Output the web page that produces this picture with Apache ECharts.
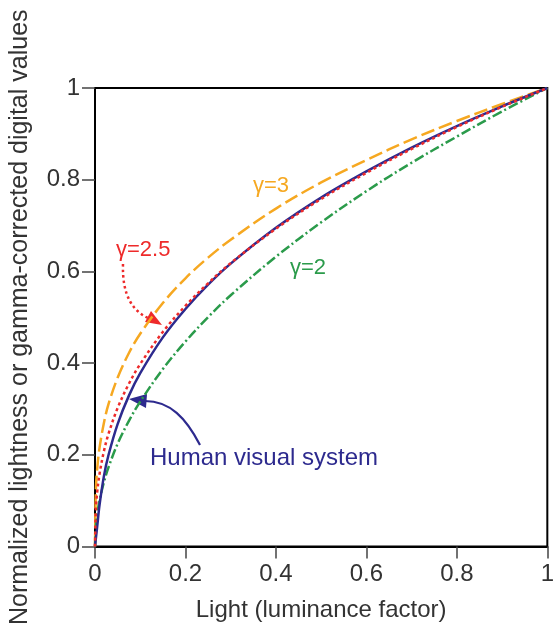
<!DOCTYPE html>
<html>
<head>
<meta charset="utf-8">
<script src="https://cdn.jsdelivr.net/npm/echarts@6/dist/echarts.min.js"></script>
<style>
html, body { margin: 0; padding: 0; background: #fff; }
#chart { width: 557px; height: 628px; }
</style>
</head>
<body>
<div id="chart"></div>
<script>
// light (luminance factor) sample points
var lightX = [0, 0.002, 0.005, 0.01, 0.02, 0.03, 0.05, 0.075, 0.1, 0.15, 0.2, 0.25, 0.3, 0.4, 0.5, 0.6, 0.7, 0.8, 0.9, 1];
// values
var gamma3 = [0, 0.126, 0.171, 0.215, 0.271, 0.311, 0.368, 0.422, 0.464, 0.531, 0.585, 0.630, 0.669, 0.737, 0.794, 0.843, 0.888, 0.928, 0.965, 1];
var gamma25 = [0, 0.083, 0.120, 0.158, 0.209, 0.246, 0.302, 0.355, 0.398, 0.468, 0.525, 0.574, 0.618, 0.693, 0.758, 0.815, 0.867, 0.915, 0.959, 1];
var humanVis = [0, 0.018, 0.045, 0.090, 0.155, 0.200, 0.267, 0.329, 0.378, 0.456, 0.518, 0.571, 0.617, 0.695, 0.761, 0.818, 0.870, 0.917, 0.960, 1];
var gamma2 = [0, 0.045, 0.071, 0.100, 0.141, 0.173, 0.224, 0.274, 0.316, 0.387, 0.447, 0.500, 0.548, 0.632, 0.707, 0.775, 0.837, 0.894, 0.949, 1];

function pairs(ys) {
	var out = [];
	for (var i = 0; i < lightX.length; i++) {
		out.push([lightX[i], ys[i]]);
	}
	return out;
}

function fmt(v) {
	return String(Math.round(v * 10) / 10);
}

var FONT = '"Liberation Sans", Arial, sans-serif';

var chart = echarts.init(document.getElementById('chart'));

function curve(name, ys, color, dash) {
	return {
		name: name,
		type: 'line',
		data: pairs(ys),
		smooth: 0.35,
		showSymbol: false,
		lineStyle: { color: color, width: 2.5, type: dash }
	};
}

var option = {
	animation: false,
	backgroundColor: '#fff',
	grid: {
		left: 91, right: 4, top: 88, bottom: 80,
		show: true,
		borderColor: '#000',
		borderWidth: 2
	},
	xAxis: {
		type: 'value',
		min: 0, max: 1, interval: 0.2,
		name: 'Light (luminance factor)',
		nameLocation: 'middle',
		nameGap: 52,
		nameTextStyle: { fontFamily: FONT, fontSize: 24, color: '#333' },
		axisLine: { show: true, lineStyle: { color: '#000', width: 2 } },
		axisTick: { show: true, length: 12, lineStyle: { color: '#444', width: 1.5 } },
		axisLabel: { margin: 16, fontFamily: FONT, fontSize: 24, color: '#333', formatter: fmt },
		splitLine: { show: false }
	},
	yAxis: {
		type: 'value',
		min: 0, max: 1, interval: 0.2,
		name: 'Normalized lightness or gamma-corrected digital values',
		nameLocation: 'middle',
		nameGap: 62,
		nameTextStyle: { fontFamily: FONT, fontSize: 25, color: '#333' },
		axisLine: { show: true, lineStyle: { color: '#000', width: 2 } },
		axisTick: { show: true, length: 13, lineStyle: { color: '#444', width: 1.5 } },
		axisLabel: { margin: 15, fontFamily: FONT, fontSize: 24, color: '#333', formatter: fmt },
		splitLine: { show: false }
	},
	series: [
		curve('γ=3', gamma3, '#f6a821', [14, 5]),
		curve('γ=2', gamma2, '#2b9b4b', [10, 3, 2, 3]),
		curve('Human visual system', humanVis, '#2d2a8e', 'solid'),
		curve('γ=2.5', gamma25, '#ee2a2a', [3, 3])
	],
	graphic: [
		// labels
		{ type: 'text', left: 116, top: 239, style: { text: 'γ=2.5', fill: '#ee2a2a', font: '22px ' + FONT } },
		{ type: 'text', left: 253, top: 175, style: { text: 'γ=3', fill: '#f6a821', font: '22px ' + FONT } },
		{ type: 'text', left: 290, top: 257, style: { text: 'γ=2', fill: '#2b9b4b', font: '22px ' + FONT } },
		{ type: 'text', left: 150, top: 446, style: { text: 'Human visual system', fill: '#2d2a8e', font: '24px ' + FONT } },
		// red dotted arrow
		{
			type: 'bezierCurve',
			shape: { x1: 123, y1: 264, cpx1: 122, cpy1: 296, cpx2: 133, cpy2: 311, x2: 148, y2: 318 },
			style: { stroke: '#ee2a2a', lineWidth: 2.5, lineDash: [2.5, 3], fill: null }
		},
		{
			type: 'polygon',
			shape: { points: [[162, 325], [145, 322], [151, 311]] },
			style: { fill: '#ee2a2a' }
		},
		// navy arrow
		{
			type: 'bezierCurve',
			shape: { x1: 200, y1: 445, cpx1: 186, cpy1: 418, cpx2: 170, cpy2: 401, x2: 145, y2: 401 },
			style: { stroke: '#2d2a8e', lineWidth: 2.2, fill: null }
		},
		{
			type: 'polygon',
			shape: { points: [[129, 399], [147, 394], [146, 408]] },
			style: { fill: '#2d2a8e' }
		}
	]
};

chart.setOption(option);
</script>
</body>
</html>
